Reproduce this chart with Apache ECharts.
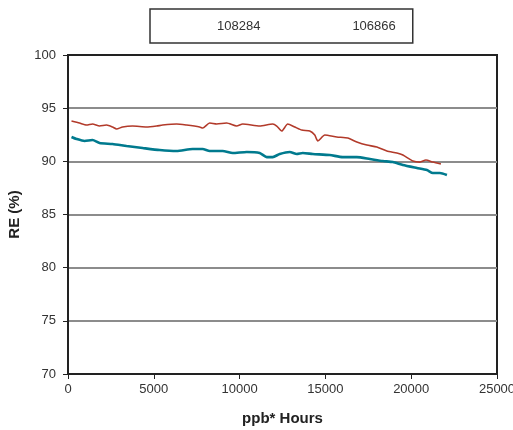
<!DOCTYPE html>
<html>
<head>
<meta charset="utf-8">
<script src="https://cdn.jsdelivr.net/npm/echarts@6/dist/echarts.min.js"></script>
<style>
  html, body { margin: 0; padding: 0; background: #fff; }
  #chart { width: 513px; height: 430px; }
</style>
</head>
<body>
<div id="chart"></div>
<script>
// Removal efficiency (%) against cumulative exposure (ppb* Hours)
const seriesNames = ['108284', '106866'];

const exposure108284 = [204, 671, 1079, 1429, 1838, 2246, 2596, 2830, 3180, 3763, 4580, 5163, 5513, 6330, 6913, 7672, 7847, 8255, 8664, 9247, 9830, 10180, 11172, 11930, 12164, 12456, 12806, 13214, 13622, 14089, 14381, 14556, 14964, 15664, 16306, 16831, 17414, 17998, 18581, 19165, 19515, 20098, 20507, 20857, 21265, 21732];
const re108284 = [93.79, 93.60, 93.41, 93.51, 93.32, 93.41, 93.23, 93.04, 93.23, 93.32, 93.23, 93.32, 93.41, 93.51, 93.41, 93.23, 93.13, 93.60, 93.51, 93.60, 93.32, 93.51, 93.32, 93.51, 93.32, 92.85, 93.51, 93.23, 92.94, 92.85, 92.47, 91.91, 92.47, 92.29, 92.19, 91.82, 91.53, 91.35, 90.97, 90.78, 90.59, 90.03, 89.93, 90.12, 89.93, 89.75];

const exposure106866 = [204, 496, 963, 1429, 1838, 2596, 3413, 4346, 5338, 6330, 7263, 7847, 8255, 9014, 9597, 10414, 11172, 11580, 11930, 12339, 12922, 13331, 13681, 14264, 15256, 16014, 16831, 17589, 18348, 18931, 19515, 20332, 20915, 21265, 21674, 22082];
const re106866 = [92.29, 92.10, 91.91, 92.00, 91.72, 91.63, 91.44, 91.25, 91.06, 90.97, 91.16, 91.16, 90.97, 90.97, 90.78, 90.88, 90.78, 90.40, 90.40, 90.69, 90.88, 90.69, 90.78, 90.69, 90.59, 90.40, 90.40, 90.22, 90.03, 89.93, 89.65, 89.37, 89.18, 88.90, 88.90, 88.71];

const pair = (xs, ys) => xs.map((x, i) => [x, ys[i]]);

const chart = echarts.init(document.getElementById('chart'), null, { renderer: 'canvas' });
const font = '"Liberation Sans", "Noto Sans", Arial, sans-serif';

chart.setOption({
  animation: false,
  backgroundColor: '#ffffff',
  textStyle: { fontFamily: font },
  legend: {
    data: seriesNames,
    left: 150,
    top: 9,
    padding: [11, 17, 10, 52],
    itemGap: 77,
    itemWidth: 10,
    itemHeight: 10,
    icon: 'rect',
    itemStyle: { color: 'rgba(0,0,0,0)', borderWidth: 0 },
    borderColor: '#333',
    borderWidth: 1.5,
    textStyle: { fontSize: 13, color: '#333', fontFamily: font }
  },
  grid: {
    left: 68, right: 16, top: 55, bottom: 56,
    containLabel: false,
    outerBoundsMode: 'none',
    show: true,
    borderColor: '#222',
    borderWidth: 2
  },
  xAxis: {
    type: 'value',
    min: 0, max: 25000, interval: 5000,
    name: 'ppb* Hours',
    nameLocation: 'middle',
    nameGap: 37,
    nameTextStyle: { fontSize: 15, fontWeight: 'bold', color: '#222', fontFamily: font },
    axisLine: { show: true, lineStyle: { color: '#222', width: 2 } },
    axisTick: { show: true, length: 5, lineStyle: { color: '#222', width: 1 } },
    axisLabel: { fontSize: 13, color: '#333', margin: 9, formatter: v => String(v) },
    splitLine: { show: false }
  },
  yAxis: {
    type: 'value',
    min: 70, max: 100, interval: 5,
    name: 'RE (%)',
    nameLocation: 'middle',
    nameGap: 46,
    nameRotate: 90,
    nameTextStyle: { fontSize: 15, fontWeight: 'bold', color: '#222', fontFamily: font },
    axisLine: { show: true, lineStyle: { color: '#222', width: 2 } },
    axisTick: { show: true, length: 5, lineStyle: { color: '#222', width: 1 } },
    axisLabel: { fontSize: 13, color: '#333', margin: 12 },
    splitLine: {
      show: true,
      lineStyle: { color: ['#222', '#8c8c8c', '#8c8c8c', '#8c8c8c', '#8c8c8c', '#8c8c8c', '#222'], width: 2 }
    }
  },
  series: [
    {
      name: seriesNames[0],
      type: 'line',
      data: pair(exposure108284, re108284),
      showSymbol: false,
      smooth: 0.2,
      lineStyle: { color: '#b23a2a', width: 1.6 },
      itemStyle: { color: '#b23a2a' },
      z: 3
    },
    {
      name: seriesNames[1],
      type: 'line',
      data: pair(exposure106866, re106866),
      showSymbol: false,
      smooth: 0.2,
      lineStyle: { color: '#007a8e', width: 2.6 },
      itemStyle: { color: '#007a8e' },
      z: 2
    }
  ]
});
</script>
</body>
</html>
